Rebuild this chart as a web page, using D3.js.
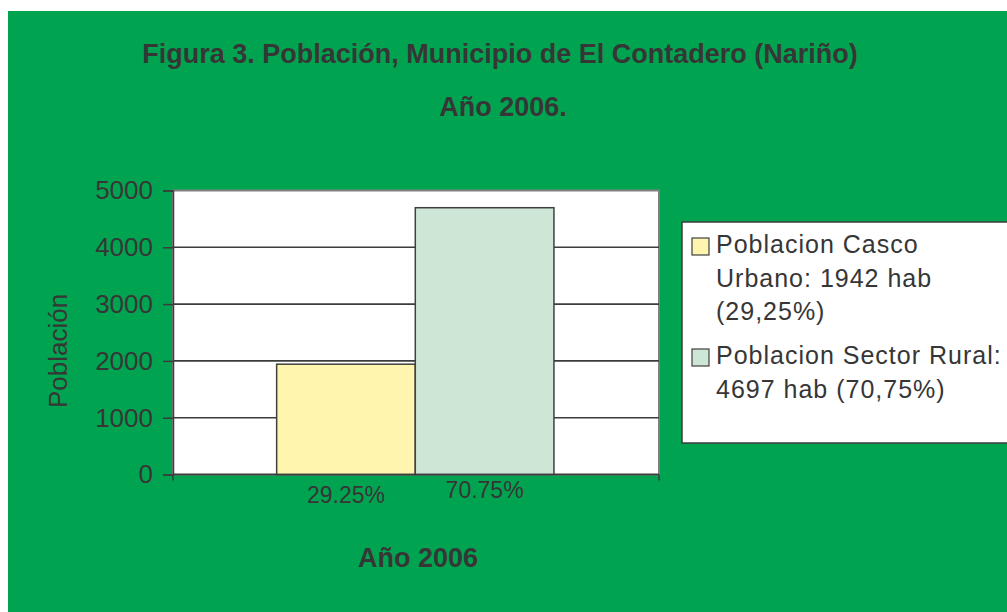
<!DOCTYPE html>
<html>
<head>
<meta charset="utf-8">
<title>Población El Contadero 2006</title>
<script src="https://d3js.org/d3.v7.min.js"></script>
<style>
  body { margin: 0; background: #fff; }
  text { font-family: "Liberation Sans", Arial, sans-serif; fill: #363636; }
</style>
</head>
<body>
<svg width="1007" height="612"></svg>
<script>

// data
var categories = ["Año 2006"];
var series = ["Poblacion Casco Urbano", "Poblacion Sector Rural"];
var values = [1942, 4697];
var percentLabels = ["29.25%", "70.75%"];
var legendLines = [
  ["Poblacion Casco", "Urbano: 1942 hab", "(29,25%)"],
  ["Poblacion Sector Rural:", "4697 hab (70,75%)"]
];
var yTicks = [0, 1000, 2000, 3000, 4000, 5000];
var colors = ["#fff5ae", "#cde6d5"];

var svg = d3.select("svg");

svg.append("rect")
    .attr("x", 8).attr("y", 11)
    .attr("width", 1007 - 8).attr("height", 612 - 11)
    .attr("fill", "#00a450");

// title
svg.append("text")
    .attr("x", 500).attr("y", 63)
    .attr("text-anchor", "middle")
    .attr("font-weight", "bold")
    .attr("font-size", 27)
    .text("Figura 3. Población, Municipio de El Contadero (Nariño)");

svg.append("text")
    .attr("x", 503).attr("y", 116)
    .attr("text-anchor", "middle")
    .attr("font-weight", "bold")
    .attr("font-size", 27)
    .text("Año 2006.");

var plot = {left: 173, right: 659, top: 190.5, bottom: 474.5};

var y = d3.scaleLinear()
    .domain([0, 5000])
    .range([plot.bottom, plot.top]);

var x = d3.scaleBand()
    .domain(categories)
    .range([plot.left, plot.right]);

var xs = d3.scaleBand()
    .domain(series)
    .range([-0.7, x.bandwidth() - 0.7])
    .paddingOuter(0.7526);

// plot area
svg.append("rect")
    .attr("x", plot.left).attr("y", plot.top)
    .attr("width", plot.right - plot.left)
    .attr("height", plot.bottom - plot.top)
    .attr("fill", "#fff")
    .attr("stroke", "#808080")
    .attr("stroke-width", 2);

svg.append("g")
  .selectAll("line")
  .data(yTicks.slice(1, -1))
  .enter().append("line")
    .attr("x1", plot.left).attr("x2", plot.right)
    .attr("y1", function(d) { return y(d); })
    .attr("y2", function(d) { return y(d); })
    .attr("stroke", "#3c3c3c")
    .attr("stroke-width", 1.6);

// bars
svg.append("g")
  .selectAll("rect")
  .data(values)
  .enter().append("rect")
    .attr("x", function(d, i) { return x(categories[0]) + xs(series[i]); })
    .attr("y", function(d) { return y(d); })
    .attr("width", xs.bandwidth())
    .attr("height", function(d) { return y(0) - y(d); })
    .attr("fill", function(d, i) { return colors[i]; })
    .attr("stroke", "#404040")
    .attr("stroke-width", 1.5);

// y axis
var yAxis = svg.append("g")
    .attr("transform", "translate(" + plot.left + ",0)")
    .call(d3.axisLeft(y).tickValues(yTicks).tickSize(10).tickPadding(10).tickFormat(d3.format("d")));
yAxis.select(".domain").attr("stroke", "#3c3c3c").attr("stroke-width", 1.5);
yAxis.selectAll(".tick line").attr("stroke", "#3c3c3c").attr("stroke-width", 1.5);
yAxis.selectAll(".tick text")
    .attr("font-size", 26)
    .attr("font-family", "Liberation Sans, Arial, sans-serif")
    .attr("fill", "#363636");

// x axis
var xAxis = svg.append("g")
    .attr("transform", "translate(0," + plot.bottom + ")");
xAxis.append("line")
    .attr("x1", plot.left).attr("x2", plot.right)
    .attr("stroke", "#3c3c3c").attr("stroke-width", 1.5);
xAxis.selectAll(".edge")
  .data(x.range())
  .enter().append("line")
    .attr("class", "edge")
    .attr("x1", function(d) { return d; }).attr("x2", function(d) { return d; })
    .attr("y1", 0).attr("y2", 6)
    .attr("stroke", "#3c3c3c").attr("stroke-width", 1.5);

// percent labels under bars
svg.append("g")
  .selectAll("text")
  .data(percentLabels)
  .enter().append("text")
    .attr("x", function(d, i) { return x(categories[0]) + xs(series[i]) + xs.bandwidth() / 2; })
    .attr("y", function(d, i) { return plot.bottom + (i === 0 ? 28.5 : 23.5); })
    .attr("text-anchor", "middle")
    .attr("font-size", 23)
    .text(function(d) { return d; });

// axis titles
svg.append("text")
    .attr("x", x(categories[0]) + x.bandwidth() / 2 + 2)
    .attr("y", 567)
    .attr("text-anchor", "middle")
    .attr("font-weight", "bold")
    .attr("font-size", 27)
    .text(categories[0]);

svg.append("text")
    .attr("transform", "translate(67,351) rotate(-90)")
    .attr("text-anchor", "middle")
    .attr("font-size", 26)
    .text("Población");

// legend
var legend = svg.append("g");
legend.append("rect")
    .attr("x", 682).attr("y", 222)
    .attr("width", 340).attr("height", 221)
    .attr("fill", "#fff")
    .attr("stroke", "#3c3c3c")
    .attr("stroke-width", 1.5);

var itemTop = [253, 364];
var item = legend.selectAll(".item")
  .data(series)
  .enter().append("g")
    .attr("class", "item")
    .attr("transform", function(d, i) { return "translate(0," + itemTop[i] + ")"; });

item.append("rect")
    .attr("x", 692).attr("y", -15)
    .attr("width", 17).attr("height", 17)
    .attr("fill", function(d, i) { return colors[i]; })
    .attr("stroke", "#404040")
    .attr("stroke-width", 1.2);

item.selectAll("text")
  .data(function(d, i) { return legendLines[i]; })
  .enter().append("text")
    .attr("x", 716)
    .attr("y", function(d, j) { return j * 33.5; })
    .attr("font-size", 25)
    .attr("letter-spacing", 1)
    .text(function(d) { return d; });

</script>
</body>
</html>
